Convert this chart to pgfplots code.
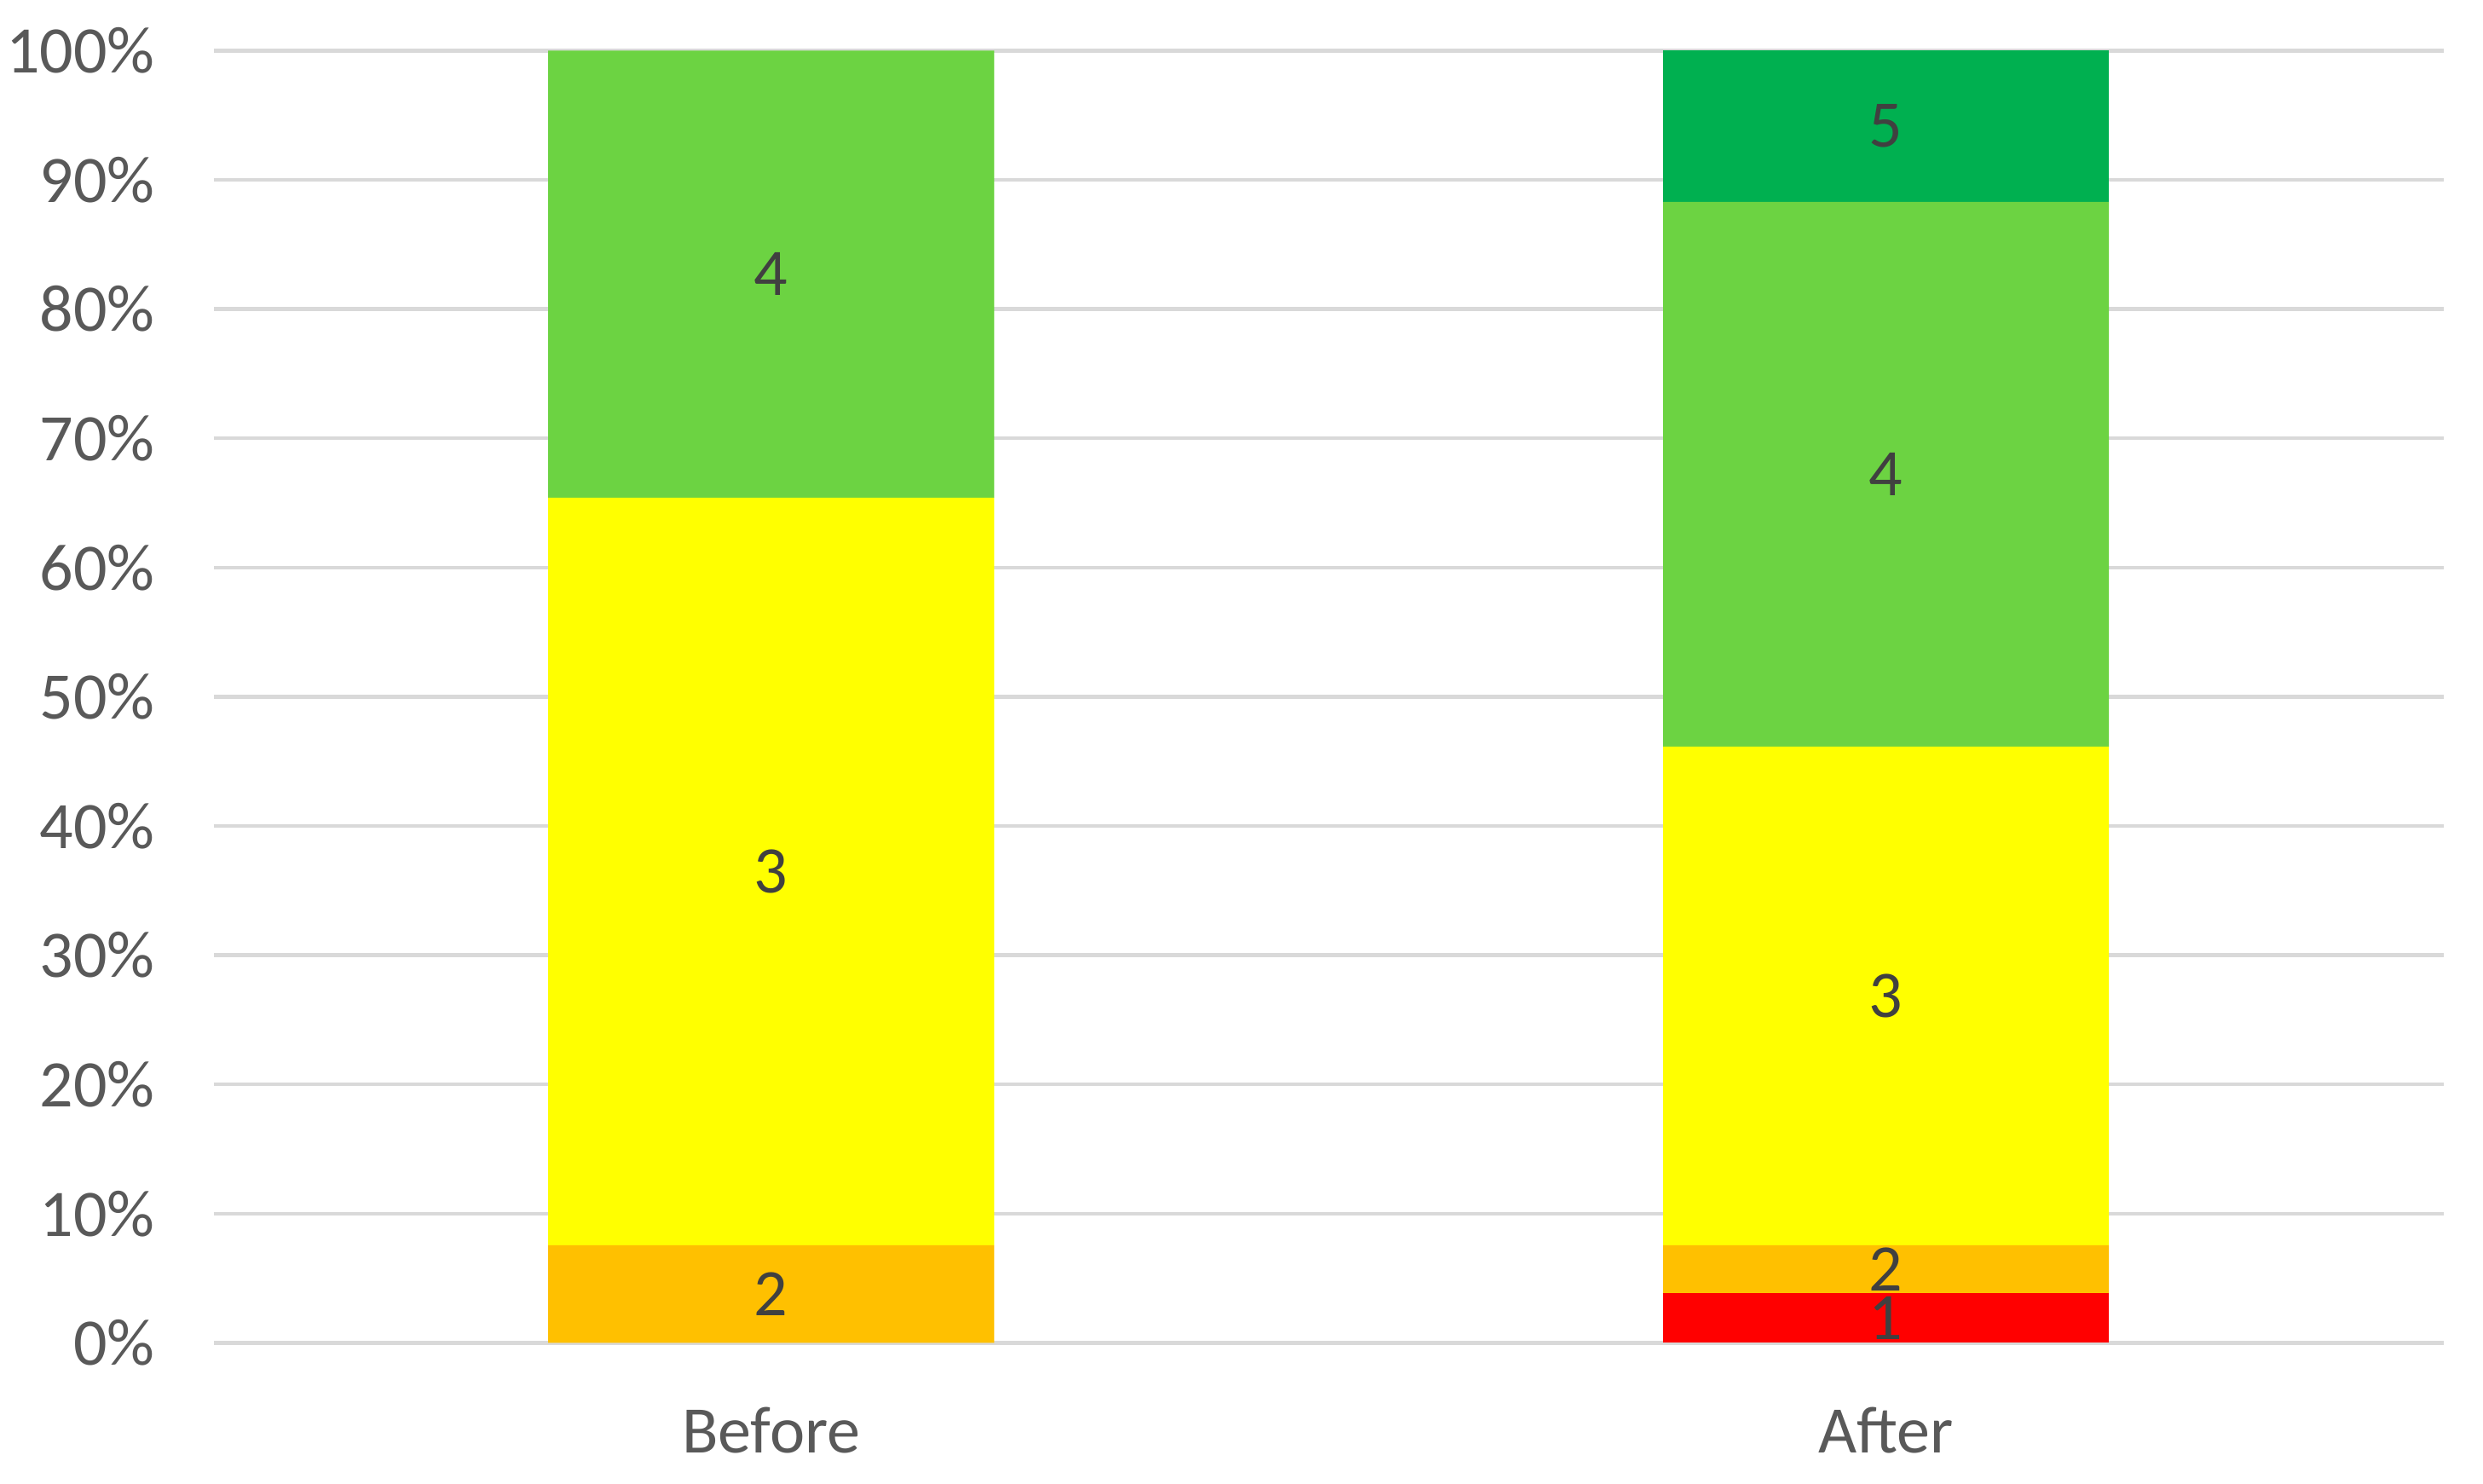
\documentclass[border=0pt]{standalone}
\usepackage{pgfplots}
\pgfplotsset{compat=1.18}
\usepackage{fontspec}
\setmainfont{Carlito}
\definecolor{sred}{HTML}{FF0000}
\definecolor{sorange}{HTML}{FFC000}
\definecolor{syellow}{HTML}{FFFF00}
\definecolor{slgreen}{HTML}{6CD342}
\definecolor{sdgreen}{HTML}{00B050}
\definecolor{gridgray}{HTML}{D9D9D9}
\definecolor{ticktext}{HTML}{595959}
\definecolor{valtext}{HTML}{404040}

% segment label, hidden when the segment is empty
\newcommand{\seglabel}[1]{\pgfmathparse{\rawy>0.01}\ifdim\pgfmathresult pt>0.5pt #1\fi}

\begin{document}
\begin{tikzpicture}
\begin{axis}[at={(0,0)},anchor=south west,
  width=422.4pt,height=244.8pt,scale only axis,
  ybar stacked,bar width=0.4,
  xmin=-0.5,xmax=1.5,ymin=0,ymax=100,
  xtick={0,1},xticklabels={Before,After},
  ytick={0,10,...,100},
  yticklabel={\pgfmathprintnumber{\tick}\%},
  /pgf/number format/assume math mode=true,
  tick label style={font=\fontsize{12.6}{15}\selectfont,text=ticktext},
  yticklabel style={inner sep=0pt,xshift=-11pt},
  xticklabel style={inner sep=0pt,yshift=-12pt},
  major tick length=0pt,
  axis x line*=bottom,axis y line*=left,
  x axis line style={gridgray,line width=0.7pt},
  y axis line style={draw=none},
  ymajorgrids,grid style={gridgray,line width=0.7pt},
  clip=false,
  visualization depends on=rawy \as \rawy,
  every node near coord/.append style={font=\fontsize{12.6}{15}\selectfont,text=valtext,
    anchor=center},
]
\addplot+[draw=none,fill=sred,nodes near coords={\seglabel{1}}] coordinates {(0,0) (1,3.85)};
\addplot+[draw=none,fill=sorange,nodes near coords={\seglabel{2}}] coordinates {(0,7.55) (1,3.7)};
\addplot+[draw=none,fill=syellow,nodes near coords={\seglabel{3}}] coordinates {(0,57.85) (1,38.6)};
\addplot+[draw=none,fill=slgreen,nodes near coords={\seglabel{4}}] coordinates {(0,34.6) (1,42.15)};
\addplot+[draw=none,fill=sdgreen,nodes near coords={\seglabel{5}}] coordinates {(0,0) (1,11.7)};
\end{axis}
\path[use as bounding box] (-40.5pt,-26.7pt) rectangle (429.9pt,254.4pt);
\end{tikzpicture}
\end{document}
